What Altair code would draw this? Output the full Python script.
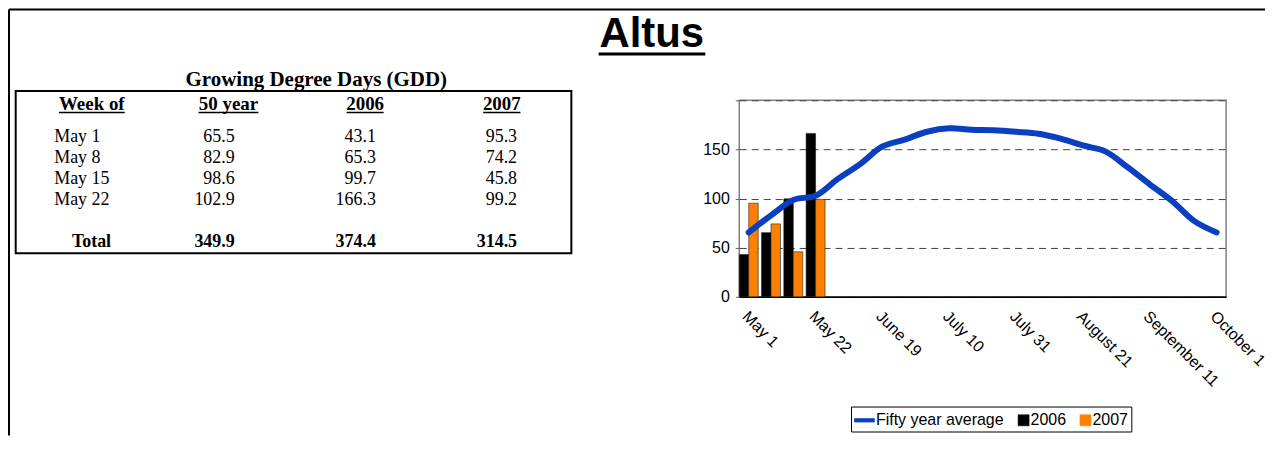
import altair as alt
import pandas as pd

# ---------------- data ----------------
weeks = ["May 1", "May 8", "May 15", "May 22", "June 5", "June 12", "June 19", "June 26",
         "July 3", "July 10", "July 17", "July 24", "July 31", "August 7", "August 14",
         "August 21", "August 28", "September 4", "September 11", "September 18",
         "September 25", "October 1"]
week_ticks = ["May 1", "May 22", "June 19", "July 10", "July 31", "August 21",
              "September 11", "October 1"]
fifty_year_avg = [65.5, 82.9, 98.6, 102.9, 120.0, 135.0, 153.0, 160.0, 168.0, 171.5, 170.0,
                  169.5, 168.0, 166.0, 161.0, 154.0, 148.0, 132.0, 114.5, 97.5, 77.0, 65.5]

table_weeks = ["May 1", "May 8", "May 15", "May 22"]
gdd_50yr = [65.5, 82.9, 98.6, 102.9]
gdd_2006 = [43.1, 65.3, 99.7, 166.3]
gdd_2007 = [95.3, 74.2, 45.8, 99.2]
totals = [349.9, 374.4, 314.5]

series_names = ["Fifty year average", "2006", "2007"]
series_colors = ["#0A40C0", "#000000", "#FF8000"]
table_headers = ["Week of", "50 year", "2006", "2007"]
value_cols = ["50 year", "2006", "2007"]
row_domain = ["May 1", "May 8", "May 15", "May 22", " ", "Total"]
y_ticks = [0, 50, 100, 150, 200]

SANS = "Liberation Sans"
SERIF = "Liberation Serif"

line_df = pd.DataFrame({"week": weeks, "gdd": fifty_year_avg,
                        "series": ["Fifty year average"] * len(weeks)})
bar_df = pd.DataFrame({"week": table_weeks * 2, "gdd": gdd_2006 + gdd_2007,
                       "series": ["2006"] * 4 + ["2007"] * 4})
tbl_rows = []
for i, w in enumerate(table_weeks):
    for c, vals in zip(value_cols, [gdd_50yr, gdd_2006, gdd_2007]):
        tbl_rows.append({"row": w, "col": c, "val": vals[i]})
tbl_df = pd.DataFrame(tbl_rows)
tot_df = pd.DataFrame({"row": ["Total"] * 3, "col": value_cols, "val": totals})
wk_df = pd.DataFrame({"row": table_weeks})
totlab_df = pd.DataFrame({"row": ["Total"]})
hdr_df = pd.DataFrame({"hdr": table_headers})
one = pd.DataFrame({"k": [0]})

# ---------------- main chart ----------------
x_main = alt.X("week:N",
               scale=alt.Scale(domain=weeks, paddingInner=0.15, paddingOuter=0),
               axis=alt.Axis(values=week_ticks, labelAngle=45, labelAlign="left",
                             labelBaseline="top", ticks=False, labelPadding=11,
                             title=None, domainColor="black", domainWidth=1.5,
                             labelFont=SANS, labelFontSize=16, labelColor="black",
                             labelOverlap=False, grid=False, labelOffset=2))
y_main = alt.Y("gdd:Q",
               scale=alt.Scale(domain=[0, 200], nice=False),
               axis=alt.Axis(values=y_ticks,
                             labelExpr="datum.value == 200 ? '' : datum.label",
                             grid=True, gridDash=[7, 5], gridColor="#404040",
                             gridWidth=1, domain=False, tickSize=4,
                             tickColor="#606060", labelPadding=6, title=None,
                             labelFont=SANS, labelFontSize=16, labelColor="black"))

LINE_PATH = "M-1,-0.18 L1,-0.18 L1,0.18 L-1,0.18 Z"
SQ_PATH = "M-0.1,-0.55 L1,-0.55 L1,0.55 L-0.1,0.55 Z"

# trailing blank space after the last entry widens the box like the original legend frame
legend_label = "datum.label == '2007' ? '2007' + '\u00a0\u00a0\u00a0\u00a0\u00a0\u00a0\u00a0' : datum.label"
legend_props = dict(title=None, orient="none", legendX=112, legendY=307,
                    direction="horizontal", strokeColor="black", fillColor="white",
                    padding=3, symbolSize=400, labelFont=SANS, labelFontSize=16,
                    labelColor="black", labelOffset=1, columnPadding=4,
                    symbolStrokeWidth=0.6, symbolStrokeColor="#333333",
                    labelExpr=legend_label)

color_enc = alt.Color("series:N",
                      scale=alt.Scale(domain=series_names, range=series_colors),
                      legend=alt.Legend(**legend_props))
shape_enc = alt.Shape("series:N",
                      scale=alt.Scale(domain=series_names,
                                      range=[LINE_PATH, SQ_PATH, SQ_PATH]),
                      legend=alt.Legend(**legend_props))

legend_pts = alt.Chart(line_df).transform_filter("false").mark_point(
    filled=True, opacity=1).encode(x=x_main, y=y_main, color=color_enc, shape=shape_enc)

bars = alt.Chart(bar_df).mark_bar(stroke="#222222", strokeWidth=0.6).encode(
    x=x_main,
    xOffset=alt.XOffset("series:N", scale=alt.Scale(domain=["2006", "2007"], paddingInner=0)),
    y=y_main,
    color=color_enc)

line = alt.Chart(line_df).mark_line(strokeWidth=6, strokeCap="round",
                                    strokeJoin="round", interpolate="catmull-rom").encode(
    x=x_main, y=y_main, color=color_enc)

main = alt.layer(legend_pts, bars, line)

# ---------------- page decorations ----------------
frame_top = alt.Chart(one).mark_rule(color="black", strokeWidth=2).encode(
    x=alt.value(-732), x2=alt.value(527), y=alt.value(-91))
frame_left = alt.Chart(one).mark_rule(color="black", strokeWidth=2).encode(
    x=alt.value(-732), y=alt.value(-91), y2=alt.value(336))

title = alt.Chart(one).mark_text(text="Altus", font=SANS, fontSize=42, fontWeight="bold",
                                 align="center", baseline="alphabetic", color="black").encode(
    x=alt.value(-87.7), y=alt.value(-53.3))
title_ul = alt.Chart(one).mark_rule(color="black", strokeWidth=3).encode(
    x=alt.value(-141), x2=alt.value(-34), y=alt.value(-46.5))

# ---------------- table ----------------
box = alt.Chart(one).mark_rect(filled=False, stroke="black", strokeWidth=2).encode(
    x=alt.value(-725.3), x2=alt.value(-168.3), y=alt.value(-9.3), y2=alt.value(153.3))
gdd_title = alt.Chart(one).mark_text(text="Growing Degree Days (GDD)", font=SERIF,
                                     fontSize=21, fontWeight="bold", align="center",
                                     baseline="alphabetic", color="black").encode(
    x=alt.value(-424), y=alt.value(-14.5))

hdr_x = [-649, -512, -375, -238]
headers = alt.Chart(hdr_df).mark_text(font=SERIF, fontSize=19, fontWeight="bold",
                                      align="center", baseline="alphabetic",
                                      color="black").encode(
    x=alt.X("hdr:N", scale=alt.Scale(type="point", domain=table_headers,
                                     range=[hdr_x[0], hdr_x[-1]], padding=0), axis=None),
    y=alt.value(9.5), text="hdr:N")

ul_half = [33, 30, 18.5, 18.7]
underlines = [
    alt.Chart(one).mark_rule(color="black", strokeWidth=1.5).encode(
        x=alt.value(cx - hw), x2=alt.value(cx + hw), y=alt.value(12.3))
    for cx, hw in zip(hdr_x, ul_half)
]

row_scale = alt.Scale(type="point", domain=row_domain, range=[41.7, 147.3], padding=0)
col_scale = alt.Scale(type="point", domain=value_cols, range=[-505.7, -222.7], padding=0)

week_labels = alt.Chart(wk_df).mark_text(font=SERIF, fontSize=18, align="left",
                                         baseline="alphabetic", color="black").encode(
    x=alt.value(-686.7), y=alt.Y("row:N", scale=row_scale, axis=None), text="row:N")
total_label = alt.Chart(totlab_df).mark_text(font=SERIF, fontSize=18, fontWeight="bold",
                                             align="center", baseline="alphabetic",
                                             color="black").encode(
    x=alt.value(-649.3), y=alt.Y("row:N", scale=row_scale, axis=None), text="row:N")
values = alt.Chart(tbl_df).mark_text(font=SERIF, fontSize=18, align="right",
                                     baseline="alphabetic", color="black").encode(
    x=alt.X("col:N", scale=col_scale, axis=None),
    y=alt.Y("row:N", scale=row_scale, axis=None),
    text=alt.Text("val:Q", format=".1f"))
total_vals = alt.Chart(tot_df).mark_text(font=SERIF, fontSize=18, fontWeight="bold",
                                         align="right", baseline="alphabetic",
                                         color="black").encode(
    x=alt.X("col:N", scale=col_scale, axis=None),
    y=alt.Y("row:N", scale=row_scale, axis=None),
    text=alt.Text("val:Q", format=".1f"))

chart = alt.layer(
    main, frame_top, frame_left, title, title_ul, box, gdd_title, headers,
    *underlines, week_labels, total_label, values, total_vals
).resolve_scale(x="independent", y="independent").properties(
    width=488, height=197, padding=0, background="white"
).configure_view(stroke="#808080", strokeWidth=1.5)

chart.save("out.html", embed_options={"renderer": "svg", "actions": False})
